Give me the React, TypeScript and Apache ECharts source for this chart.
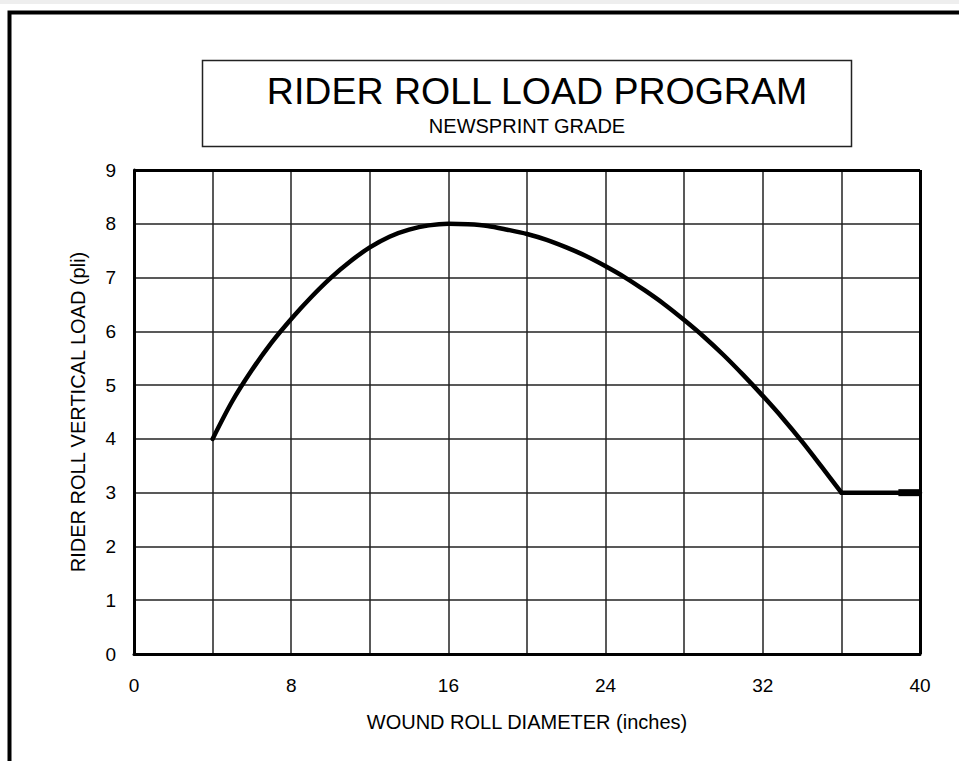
import React, { useEffect, useRef } from "react";
import * as echarts from "echarts";

const titleText = "RIDER ROLL LOAD PROGRAM";
const subtitleText = "NEWSPRINT GRADE";
const xAxisName = "WOUND ROLL DIAMETER (inches)";
const yAxisName = "RIDER ROLL VERTICAL LOAD (pli)";

const diameter = [4, 5, 6, 7, 8, 9, 10, 11, 12, 13, 14, 15, 16, 17, 18, 19, 20, 21, 22, 23, 24, 25, 26, 27, 28, 29, 30, 31, 32, 33, 34, 35, 36];
const load = [4.0, 4.7, 5.28, 5.79, 6.23, 6.63, 6.99, 7.3, 7.56, 7.76, 7.89, 7.97, 8.0, 7.99, 7.96, 7.89, 7.81, 7.7, 7.56, 7.4, 7.21, 7.0, 6.76, 6.5, 6.21, 5.9, 5.56, 5.19, 4.8, 4.39, 3.95, 3.48, 3.0];
const flatX = [36, 40];
const flatY = [3.0, 3.0];
const stubX = [38.9, 40];
const stubY = [3.0, 3.0];

export default function App() {
  const ref = useRef<HTMLDivElement>(null);
  useEffect(() => {
    if (!ref.current) return;
    const chart = echarts.init(ref.current, null, { renderer: "svg" });
    const font = "Liberation Sans, Arial, sans-serif";
    chart.setOption({
      animation: false,
      backgroundColor: "#ffffff",
      grid: { left: 134, top: 170, right: 39, bottom: 107, show: false },
      graphic: [
        { type: "rect", shape: { x: 0, y: 0, width: 959, height: 4 }, style: { fill: "#eeeeee" }, z: 0 },
        { type: "polyline", shape: { points: [[9.5, 761], [9.5, 12.5], [959, 12.5]] }, style: { stroke: "#000", lineWidth: 4, fill: null }, z: 1 },
        { type: "rect", shape: { x: 202.5, y: 60.5, width: 649, height: 86 }, style: { stroke: "#222", lineWidth: 1.5, fill: "#fff" }, z: 1 },
        { type: "text", x: 537, y: 91, style: { text: titleText, font: `37.5px ${font}`, fill: "#000", align: "center", verticalAlign: "middle" }, z: 2 },
        { type: "text", x: 527, y: 126, style: { text: subtitleText, font: `20px ${font}`, fill: "#000", align: "center", verticalAlign: "middle" }, z: 2 },
      ],
      xAxis: {
        type: "value",
        min: 0,
        max: 40,
        interval: 4,
        name: xAxisName,
        nameLocation: "middle",
        nameGap: 58,
        nameTextStyle: { fontFamily: font, fontSize: 20, color: "#000" },
        axisLine: { show: true, onZero: false, lineStyle: { color: "#000", width: 3 } },
        axisTick: { show: false },
        axisLabel: {
          fontFamily: font,
          fontSize: 19,
          color: "#000",
          margin: 22,
          formatter: (v: number) => (v % 8 === 0 ? String(v) : ""),
        },
        splitLine: { show: true, lineStyle: { color: "#222", width: 1.5 } },
      },
      yAxis: {
        type: "value",
        min: 0,
        max: 9,
        interval: 1,
        name: yAxisName,
        nameLocation: "middle",
        nameGap: 46,
        nameRotate: 90,
        nameTextStyle: { fontFamily: font, fontSize: 20, color: "#000" },
        axisLine: { show: true, lineStyle: { color: "#000", width: 3 } },
        axisTick: { show: false },
        axisLabel: { fontFamily: font, fontSize: 19, color: "#000", margin: 18 },
        splitLine: { show: true, lineStyle: { color: "#222", width: 1.5 } },
      },
      series: [
        {
          type: "line",
          data: diameter.map((d, i) => [d, load[i]]),
          showSymbol: false,
          smooth: 0.3,
          lineStyle: { color: "#000", width: 4.5, join: "round", cap: "round" },
          z: 5,
        },
        {
          type: "line",
          data: flatX.map((d, i) => [d, flatY[i]]),
          showSymbol: false,
          lineStyle: { color: "#000", width: 4.5, cap: "round" },
          z: 5,
        },
        {
          type: "line",
          data: stubX.map((d, i) => [d, stubY[i]]),
          showSymbol: false,
          lineStyle: { color: "#000", width: 7 },
          z: 6,
        },
        {
          type: "line",
          data: [],
          markLine: {
            silent: true,
            symbol: "none",
            label: { show: false },
            lineStyle: { color: "#000", width: 3, type: "solid" },
            data: [{ yAxis: 9 }, { xAxis: 40 }],
          },
        },
      ],
    });
    return () => chart.dispose();
  }, []);
  return <div ref={ref} style={{ position: "fixed", left: 0, top: 0, width: 959, height: 761 }} />;
}
